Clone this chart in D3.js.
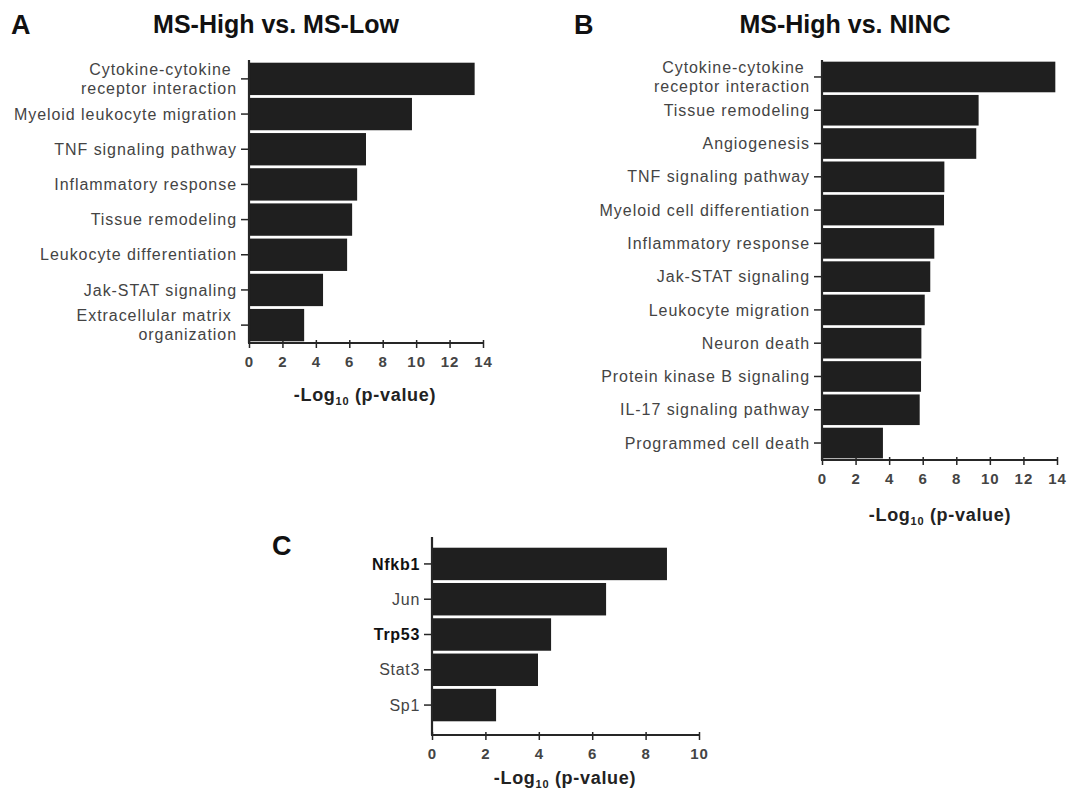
<!DOCTYPE html>
<html><head><meta charset="utf-8">
<script src="https://cdn.jsdelivr.net/npm/d3@7"></script>
<style>
body{margin:0;background:#fff;}
svg{display:block;font-family:"Liberation Sans",Arial,sans-serif;}
</style></head>
<body><svg id="c" width="1075" height="799"></svg>
<script>
// Panel A
const catsA = [["Cytokine-cytokine ","receptor interaction"],["Myeloid leukocyte migration"],["TNF signaling pathway"],["Inflammatory response"],["Tissue remodeling"],["Leukocyte differentiation"],["Jak-STAT signaling "],["Extracellular matrix ","organization"]];
const valsA = [13.5, 9.75, 7.0, 6.47, 6.17, 5.87, 4.43, 3.3];
// Panel B
const catsB = [["Cytokine-cytokine ","receptor interaction"],["Tissue remodeling"],["Angiogenesis"],["TNF signaling pathway"],["Myeloid cell differentiation"],["Inflammatory response"],["Jak-STAT signaling"],["Leukocyte migration"],["Neuron death"],["Protein kinase B signaling"],["IL-17 signaling pathway"],["Programmed cell death"]];
const valsB = [13.9, 9.33, 9.19, 7.29, 7.27, 6.69, 6.45, 6.12, 5.92, 5.9, 5.82, 3.63];
// Panel C
const catsC = [["Nfkb1"],["Jun"],["Trp53"],["Stat3"],["Sp1"]];
const boldC = [true, false, true, false, false];
const valsC = [8.8, 6.52, 4.46, 3.97, 2.4];
const ticksAB = [0,2,4,6,8,10,12,14];
const ticksC = [0,2,4,6,8,10];

const svg = d3.select("#c");
const barColor = "#1f1f1f";
const axisColor = "#262626";

function panel(o){
  const g = svg.append("g");
  const x = d3.scaleLinear().domain([0, o.max]).range([o.x0, o.x1]);
  const y = d3.scaleBand().domain(o.cats.map((d,i)=>i)).range([o.b0, o.b1]).paddingInner(0.08).paddingOuter(0.02);
  g.selectAll("rect.bar").data(o.vals).enter().append("rect")
    .attr("x", x(0)).attr("y",(d,i)=>y(i)).attr("width", d=>x(d)-x(0)).attr("height", y.bandwidth())
    .attr("fill", barColor);
  // y axis
  const ya = d3.axisLeft(y).tickSize(8).tickFormat("");
  const yg = g.append("g").attr("transform",`translate(${o.x0},0)`).call(ya);
  yg.select(".domain").remove();
  yg.selectAll("line").attr("stroke", axisColor).attr("stroke-width",1.5);
  g.append("line").attr("x1",o.x0).attr("x2",o.x0).attr("y1",o.yTop).attr("y2",o.yBot).attr("stroke",axisColor).attr("stroke-width",2.2);
  // labels
  o.cats.forEach((lines,i)=>{
    const cy = y(i)+y.bandwidth()/2;
    const t = g.append("text").attr("text-anchor","end").attr("font-size",o.lfs)
      .attr("letter-spacing",o.ls)
      .attr("font-weight", o.bold && o.bold[i] ? "bold" : "normal")
      .attr("fill", o.bold && o.bold[i] ? "#111" : "#444");
    const n = lines.length, lh = o.lh;
    lines.forEach((ln,k)=>{
      t.append("tspan").attr("x", o.x0-12).attr("y", cy + (k-(n-1)/2)*lh).attr("dy","0.35em").text(ln);
    });
  });
  // x axis
  const xa = d3.axisBottom(x).tickValues(o.ticks).tickSize(5).tickPadding(6).tickFormat(d3.format("d"));
  const xg = g.append("g").attr("transform",`translate(0,${o.yBot})`).call(xa);
  xg.select(".domain").remove();
  xg.selectAll(".tick line").attr("y1",-3).attr("stroke",axisColor).attr("stroke-width",1.5);
  xg.selectAll(".tick text").attr("font-size",15).attr("font-weight","bold").attr("fill","#444")
    .attr("letter-spacing",1).attr("font-family","'Liberation Sans',Arial,sans-serif").attr("y", o.tickY);
  g.append("line").attr("x1",o.x0-1).attr("x2",o.x1+1).attr("y1",o.yBot).attr("y2",o.yBot).attr("stroke",axisColor).attr("stroke-width",2.2);
  // axis title
  const at = g.append("text").attr("x",o.atx).attr("y",o.aty).attr("text-anchor","middle")
    .attr("font-size",18).attr("font-weight","bold").attr("fill","#222").attr("letter-spacing",0.7);
  at.append("tspan").text("-Log");
  at.append("tspan").attr("font-size",11).attr("dy",4).text("10");
  at.append("tspan").attr("dy",-4).text(" (p-value)");
  // title
  if(o.title) g.append("text").attr("x",o.tx).attr("y",33).attr("text-anchor","middle")
    .attr("font-size",25).attr("font-weight","bold").attr("fill","#111").text(o.title);
  g.append("text").attr("x",o.lx).attr("y",o.ly).attr("font-size",27).attr("font-weight","bold").attr("fill","#111").text(o.letter);
}

panel({cats:catsA, vals:valsA, max:14, x0:249, x1:483, b0:62, b1:342, yTop:60, yBot:343,
  ticks:ticksAB, tickY:13, atx:365, aty:401, title:"MS-High vs. MS-Low", tx:276, letter:"A", lx:11, ly:34,
  lfs:16, ls:0.95, lh:19});
panel({cats:catsB, vals:valsB, max:14, x0:822, x1:1057, b0:61, b1:459, yTop:60, yBot:460,
  ticks:ticksAB, tickY:13, atx:940, aty:521, title:"MS-High vs. NINC", tx:845, letter:"B", lx:574, ly:34,
  lfs:16, ls:0.95, lh:19});
panel({cats:catsC, vals:valsC, max:10, x0:432, x1:699, b0:547, b1:722, yTop:537, yBot:735,
  ticks:ticksC, tickY:13, atx:565, aty:784, title:null, letter:"C", lx:272, ly:555,
  lfs:16, ls:0.7, lh:19, bold:boldC});
</script></body></html>
